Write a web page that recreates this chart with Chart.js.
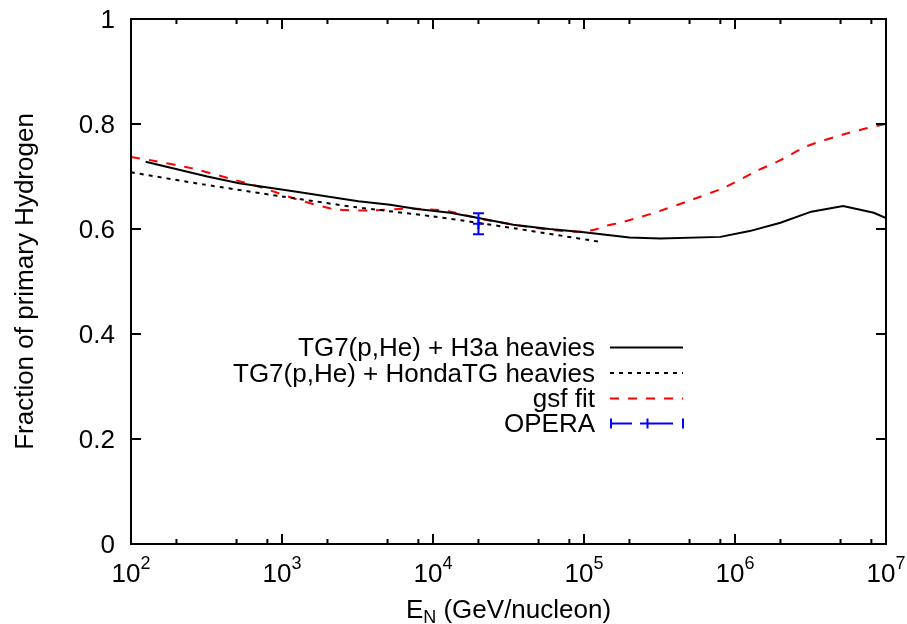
<!DOCTYPE html>
<html lang="en">
<head>
    <meta charset="UTF-8">
    <title>Fraction of primary Hydrogen</title>
    <script src="https://cdn.jsdelivr.net/npm/chart.js"></script>
    <style>
        body {
            margin: 0;
            background-color: white;
        }
        #wrap {
            width: 907px;
            height: 624px;
        }
    </style>
</head>
<body>
    <div id="wrap">
        <canvas id="hydrogenChart" width="907" height="624"></canvas>
    </div>

    <script>
        // energies in GeV/nucleon, fractions of primary hydrogen
        const h3aEnergy = [125, 320, 520, 1250, 3200, 5200, 7800, 13000, 20000, 34000, 59000, 100000,
                           200000, 320000, 800000, 1250000, 2000000, 3200000, 5200000, 8300000, 10000000];
        const h3aFrac = [0.728, 0.700, 0.687, 0.671, 0.653, 0.646, 0.638, 0.631, 0.621, 0.608, 0.600, 0.594,
                         0.584, 0.582, 0.585, 0.596, 0.612, 0.633, 0.644, 0.631, 0.621];

        const hondaEnergy = [100, 300, 1000, 3000, 10000, 30000, 125000];
        const hondaFrac = [0.708, 0.685, 0.662, 0.642, 0.624, 0.604, 0.576];

        const gsfEnergy = [100, 135, 250, 440, 750, 1300, 2200, 3800, 6800, 12000, 21000, 38000, 66000,
                           90000, 115000, 140000, 180000, 300000, 500000, 850000, 1400000, 2000000,
                           3000000, 5200000, 7000000, 10000000];
        const gsfFrac = [0.737, 0.731, 0.716, 0.697, 0.678, 0.655, 0.638, 0.635, 0.639, 0.635, 0.619, 0.606, 0.597,
                         0.595, 0.598, 0.606, 0.613, 0.632, 0.654, 0.679, 0.711, 0.731,
                         0.758, 0.780, 0.790, 0.800];

        const operaEnergy = [20000];
        const operaFrac = [0.610];
        const operaLow = [0.590];
        const operaHigh = [0.630];

        const xExponents = [2, 3, 4, 5, 6, 7];
        const minorMantissas = [2, 5, 8];
        const yTicks = [0, 0.2, 0.4, 0.6, 0.8, 1];
        const yTickLabels = ['0', '0.2', '0.4', '0.6', '0.8', '1'];

        const legendLabels = ['TG7(p,He) + H3a heavies', 'TG7(p,He) + HondaTG heavies', 'gsf fit', 'OPERA'];

        const FONT = '"Liberation Sans", Arial, Helvetica, sans-serif';
        const BIG = '26px ' + FONT;
        const SMALL = '18px ' + FONT;

        function toPoints(xs, ys) {
            return xs.map((v, i) => ({ x: v, y: ys[i] }));
        }

        // box, inward ticks, labels, error bar and key in gnuplot style
        const gnuplotDecor = {
            id: 'gnuplotDecor',
            afterDatasetsDraw(chart) {
                const ctx = chart.ctx;
                const a = chart.chartArea;
                const xs = chart.scales.x;
                const ys = chart.scales.y;
                ctx.save();

                // OPERA error bar
                ctx.strokeStyle = '#0000ff';
                ctx.lineWidth = 2;
                operaEnergy.forEach((e, i) => {
                    const px = xs.getPixelForValue(e);
                    const lo = ys.getPixelForValue(operaLow[i]);
                    const hi = ys.getPixelForValue(operaHigh[i]);
                    ctx.beginPath();
                    ctx.moveTo(px, lo); ctx.lineTo(px, hi);
                    ctx.moveTo(px - 5.5, lo); ctx.lineTo(px + 5.5, lo);
                    ctx.moveTo(px - 5.5, hi); ctx.lineTo(px + 5.5, hi);
                    ctx.stroke();
                });

                // frame
                ctx.strokeStyle = '#000';
                ctx.lineWidth = 2;
                ctx.strokeRect(a.left, a.top, a.right - a.left, a.bottom - a.top);

                // x ticks (major + minor), on bottom and top
                ctx.beginPath();
                xExponents.forEach(p => {
                    const px = xs.getPixelForValue(Math.pow(10, p));
                    ctx.moveTo(px, a.bottom); ctx.lineTo(px, a.bottom - 10);
                    ctx.moveTo(px, a.top); ctx.lineTo(px, a.top + 10);
                    if (p < 7) {
                        minorMantissas.forEach(m => {
                            const mx = xs.getPixelForValue(m * Math.pow(10, p));
                            ctx.moveTo(mx, a.bottom); ctx.lineTo(mx, a.bottom - 5);
                            ctx.moveTo(mx, a.top); ctx.lineTo(mx, a.top + 5);
                        });
                    }
                });
                // y ticks, on left and right
                yTicks.forEach(v => {
                    const py = ys.getPixelForValue(v);
                    ctx.moveTo(a.left, py); ctx.lineTo(a.left + 10, py);
                    ctx.moveTo(a.right, py); ctx.lineTo(a.right - 10, py);
                });
                ctx.stroke();

                ctx.fillStyle = '#000';

                // y tick labels
                ctx.font = BIG;
                ctx.textAlign = 'right';
                ctx.textBaseline = 'alphabetic';
                yTicks.forEach((v, i) => {
                    ctx.fillText(yTickLabels[i], a.left - 16, ys.getPixelForValue(v) + 9);
                });

                // x tick labels: 10 with superscript exponent
                xExponents.forEach(p => {
                    const px = xs.getPixelForValue(Math.pow(10, p));
                    ctx.font = BIG;
                    const baseW = ctx.measureText('10').width;
                    ctx.font = SMALL;
                    const supW = ctx.measureText(String(p)).width;
                    const left = px - (baseW + supW) / 2;
                    ctx.textAlign = 'left';
                    ctx.font = BIG;
                    ctx.fillText('10', left, 582);
                    ctx.font = SMALL;
                    ctx.fillText(String(p), left + baseW, 569);
                });

                // x axis title: E_N (GeV/nucleon)
                ctx.font = BIG;
                const eW = ctx.measureText('E').width;
                const restW = ctx.measureText(' (GeV/nucleon)').width;
                ctx.font = SMALL;
                const nW = ctx.measureText('N').width;
                const tx = (a.left + a.right) / 2 - (eW + nW + restW) / 2;
                ctx.textAlign = 'left';
                ctx.font = BIG;
                ctx.fillText('E', tx, 618);
                ctx.font = SMALL;
                ctx.fillText('N', tx + eW, 623);
                ctx.font = BIG;
                ctx.fillText(' (GeV/nucleon)', tx + eW + nW, 618);

                // y axis title
                ctx.save();
                ctx.translate(33, (a.top + a.bottom) / 2);
                ctx.rotate(-Math.PI / 2);
                ctx.textAlign = 'center';
                ctx.fillText('Fraction of primary Hydrogen', 0, 0);
                ctx.restore();

                // key
                const keyTextX = 595;
                const sx0 = 610, sx1 = 683;
                const baselines = [356, 381.5, 407, 432];
                const ly = [347.5, 373, 398.5, 423.5];
                ctx.textAlign = 'right';
                ctx.font = BIG;
                legendLabels.forEach((lbl, i) => {
                    ctx.fillText(lbl, keyTextX, baselines[i]);
                });
                ctx.lineWidth = 2;
                // solid
                ctx.strokeStyle = '#000';
                ctx.setLineDash([]);
                ctx.beginPath(); ctx.moveTo(sx0, ly[0]); ctx.lineTo(sx1, ly[0]); ctx.stroke();
                // dotted
                ctx.setLineDash([4, 5]);
                ctx.beginPath(); ctx.moveTo(sx0, ly[1]); ctx.lineTo(sx1, ly[1]); ctx.stroke();
                // dashed red
                ctx.strokeStyle = '#ff0000';
                ctx.setLineDash([9, 9]);
                ctx.beginPath(); ctx.moveTo(sx0, ly[2]); ctx.lineTo(sx1, ly[2]); ctx.stroke();
                // error bar sample
                ctx.setLineDash([]);
                ctx.strokeStyle = '#0000ff';
                const mid = (sx0 + sx1) / 2 + 1;
                ctx.beginPath();
                ctx.moveTo(sx0 + 1, ly[3]); ctx.lineTo(632, ly[3]);
                ctx.moveTo(640, ly[3]); ctx.lineTo(673, ly[3]);
                ctx.moveTo(sx0 + 1, ly[3] - 5); ctx.lineTo(sx0 + 1, ly[3] + 5);
                ctx.moveTo(sx1, ly[3] - 5); ctx.lineTo(sx1, ly[3] + 5);
                ctx.moveTo(mid, ly[3] - 5); ctx.lineTo(mid, ly[3] + 5);
                ctx.stroke();

                ctx.restore();
            }
        };

        const ctxH = document.getElementById('hydrogenChart').getContext('2d');
        new Chart(ctxH, {
            type: 'line',
            data: {
                datasets: [
                    {
                        label: legendLabels[0],
                        data: toPoints(h3aEnergy, h3aFrac),
                        borderColor: '#000000',
                        borderWidth: 2,
                        pointRadius: 0,
                        tension: 0
                    },
                    {
                        label: legendLabels[1],
                        data: toPoints(hondaEnergy, hondaFrac),
                        borderColor: '#000000',
                        borderWidth: 2,
                        borderDash: [4, 5],
                        pointRadius: 0,
                        tension: 0.2
                    },
                    {
                        label: legendLabels[2],
                        data: toPoints(gsfEnergy, gsfFrac),
                        borderColor: '#ff0000',
                        borderWidth: 2,
                        borderDash: [9, 9],
                        pointRadius: 0,
                        tension: 0.2
                    },
                    {
                        label: legendLabels[3],
                        data: toPoints(operaEnergy, operaFrac),
                        borderColor: '#0000ff',
                        backgroundColor: '#0000ff',
                        borderWidth: 2,
                        showLine: false,
                        pointStyle: 'cross',
                        pointRadius: 5.5
                    }
                ]
            },
            options: {
                responsive: false,
                animation: false,
                layout: {
                    padding: { left: 0, top: 19, right: 21, bottom: 0 }
                },
                scales: {
                    x: {
                        type: 'logarithmic',
                        min: 100,
                        max: 10000000,
                        grid: { display: false },
                        border: { display: false },
                        ticks: { display: false },
                        afterFit(scale) { scale.height = 80; }
                    },
                    y: {
                        min: 0,
                        max: 1,
                        grid: { display: false },
                        border: { display: false },
                        ticks: { display: false },
                        afterFit(scale) { scale.width = 131; }
                    }
                },
                plugins: {
                    legend: { display: false },
                    tooltip: { enabled: false }
                }
            },
            plugins: [gnuplotDecor]
        });
    </script>
</body>
</html>
